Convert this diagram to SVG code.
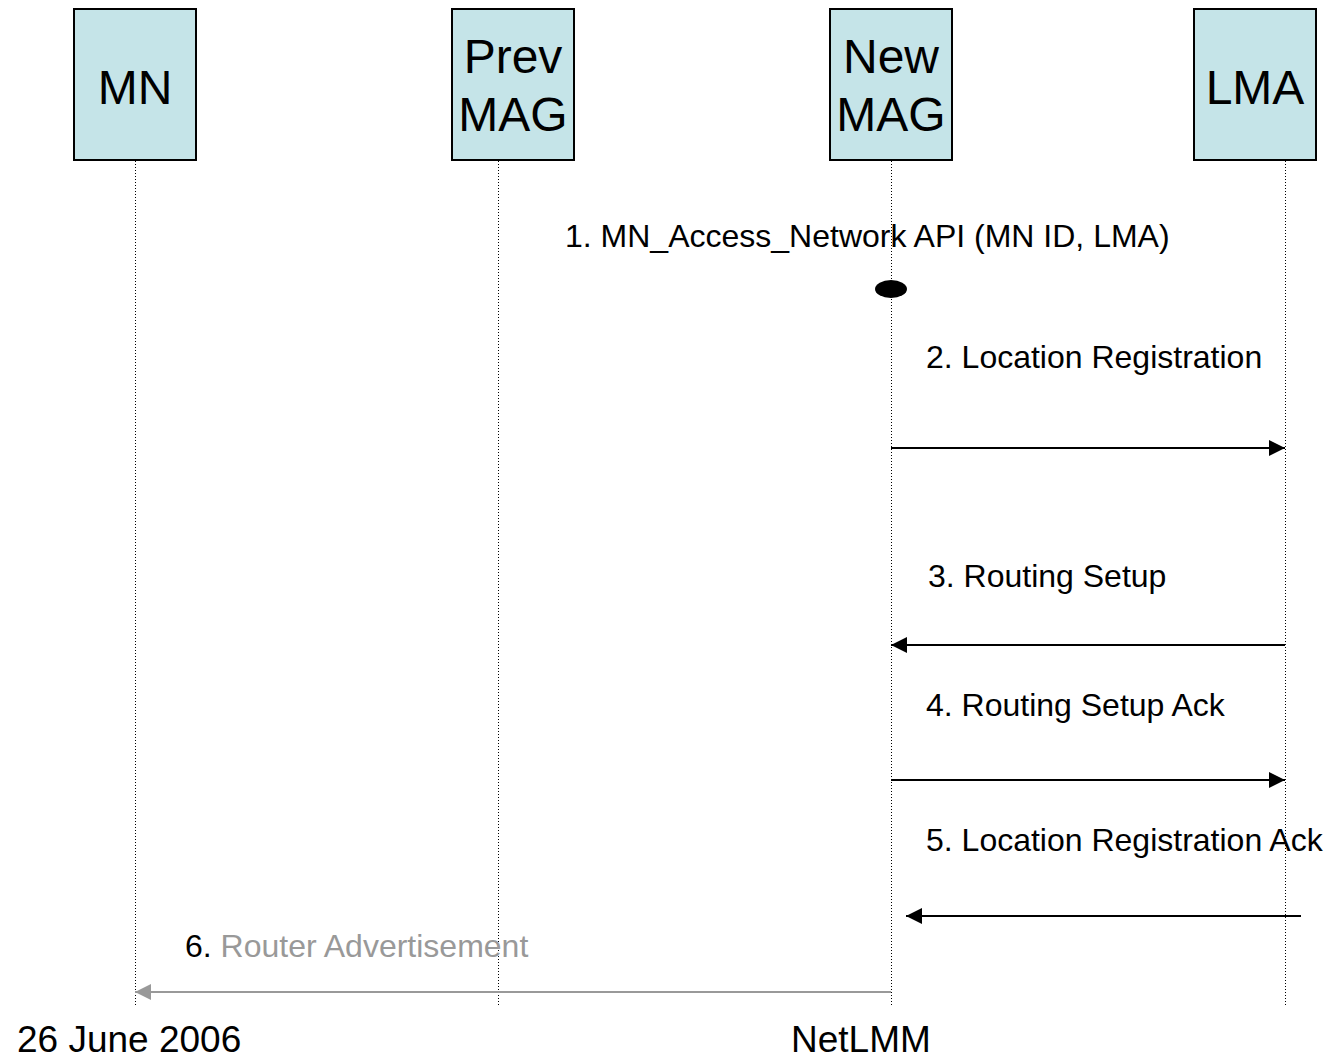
<svg xmlns="http://www.w3.org/2000/svg" width="1328" height="1058" viewBox="0 0 1328 1058">
  <style>
    .box { fill: #c5e4e8; stroke: #000; stroke-width: 2; }
    .name { font-family: "Liberation Sans", Arial, sans-serif; font-size: 48px; fill: #000; text-anchor: middle; }
    .life { stroke: #000; stroke-width: 1; stroke-dasharray: 1 2; fill: none; }
    .msg { font-family: "Liberation Sans", Arial, sans-serif; font-size: 32px; fill: #000; }
    .arrow { stroke: #000; stroke-width: 2; fill: none; marker-end: url(#head); }
    .arrow-grey { stroke: #999; stroke-width: 2; fill: none; marker-end: url(#head-grey); }
    .foot { font-family: "Liberation Sans", Arial, sans-serif; font-size: 37px; fill: #000; }
  </style>
  <defs>
    <marker id="head" markerWidth="16" markerHeight="16" viewBox="0 0 16 16" refX="16" refY="8" orient="auto" markerUnits="userSpaceOnUse">
      <path d="M0,0 L16,8 L0,16 Z" fill="#000"/>
    </marker>
    <marker id="head-grey" markerWidth="16" markerHeight="16" viewBox="0 0 16 16" refX="16" refY="8" orient="auto" markerUnits="userSpaceOnUse">
      <path d="M0,0 L16,8 L0,16 Z" fill="#999"/>
    </marker>
  </defs>

  <rect width="1328" height="1058" fill="#fff"/>

  <!-- lifelines -->
  <g id="lifelines">
    <line class="life" x1="135.5" y1="161" x2="135.5" y2="1005"/>
    <line class="life" x1="498.5" y1="161" x2="498.5" y2="1005"/>
    <line class="life" x1="891.5" y1="161" x2="891.5" y2="1005"/>
    <line class="life" x1="1285.5" y1="161" x2="1285.5" y2="1005"/>
  </g>

  <!-- participants -->
  <g id="mn">
    <rect class="box" x="74" y="9" width="122" height="151"/>
    <text class="name" x="135" y="104">MN</text>
  </g>
  <g id="prev-mag">
    <rect class="box" x="452" y="9" width="122" height="151"/>
    <text class="name" x="513" y="73">Prev</text>
    <text class="name" x="513" y="131">MAG</text>
  </g>
  <g id="new-mag">
    <rect class="box" x="830" y="9" width="122" height="151"/>
    <text class="name" x="891" y="73">New</text>
    <text class="name" x="891" y="131">MAG</text>
  </g>
  <g id="lma">
    <rect class="box" x="1194" y="9" width="122" height="151"/>
    <text class="name" x="1255" y="104">LMA</text>
  </g>

  <!-- messages -->
  <g id="connectors">
    <ellipse cx="891" cy="289" rx="16" ry="9" fill="#000"/>
    <line class="arrow" x1="891" y1="448" x2="1285" y2="448"/>
    <line class="arrow" x1="1285" y1="645" x2="891" y2="645"/>
    <line class="arrow" x1="891" y1="780" x2="1285" y2="780"/>
    <line class="arrow" x1="1301" y1="916" x2="906" y2="916"/>
    <line class="arrow-grey" x1="891" y1="992" x2="135" y2="992"/>
  </g>

  <g id="labels">
    <text class="msg" x="565" y="247">1. MN_Access_Network API (MN ID, LMA)</text>
    <text class="msg" x="926" y="368">2. Location Registration</text>
    <text class="msg" x="928" y="587">3. Routing Setup</text>
    <text class="msg" x="926" y="716">4. Routing Setup Ack</text>
    <text class="msg" x="926" y="851">5. Location Registration Ack</text>
    <text class="msg" x="185" y="957">6.<tspan fill="#999"> Router Advertisement</tspan></text>
  </g>

  <!-- footer -->
  <text class="foot" x="17" y="1052">26 June 2006</text>
  <text class="foot" x="791" y="1052">NetLMM</text>
</svg>
